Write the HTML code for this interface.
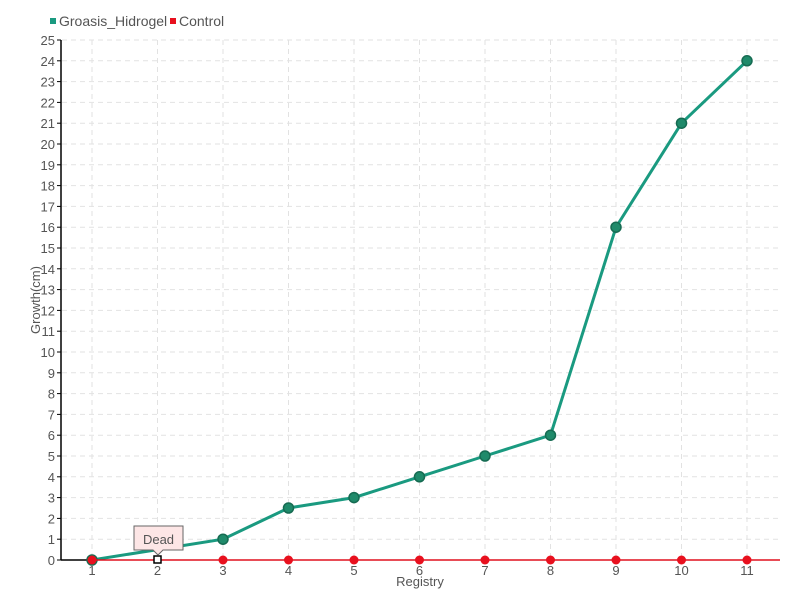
<!DOCTYPE html>
<html><head><style>body{margin:0;background:#fff}svg{display:block}text{font-family:"Liberation Sans",sans-serif;fill:#555}</style></head><body>
<svg width="800" height="600" xmlns="http://www.w3.org/2000/svg">
<g id="grid" stroke="#e2e2e2" stroke-dasharray="5,4" stroke-width="1"></g>
<g id="ax"></g>
<polyline points="92,560 157.5,549.6 223,539.2 288.5,508 354,497.6 419.5,476.8 485,456 550.5,435.2 616,227.2 681.5,123.2 747,60.8" fill="none" stroke="#1a9a80" stroke-width="3"/>
<g id="gp" fill="#1f8a6a" stroke="#166b52" stroke-width="1.5"></g>
<line x1="92" y1="560" x2="780" y2="560" stroke="#e0101e" stroke-width="1.5"/>
<g id="rp" fill="#e8101e"></g>
<rect x="154" y="556" width="7" height="7" fill="#fff" stroke="#000" stroke-width="1.5"/>
<path d="M134,526 H183 V550 H163 L158,555 L153,550 H134 Z" fill="#fde6e6" stroke="#666"/>
<text x="158.5" y="544" text-anchor="middle" font-size="13">Dead</text>
<rect x="50" y="18" width="6" height="6" fill="#1a9a80"/>
<text x="59" y="26" font-size="14">Groasis_Hidrogel</text>
<rect x="170" y="18" width="6" height="6" fill="#e8101e"/>
<text x="179" y="26" font-size="14">Control</text>
<text x="420" y="586" text-anchor="middle" font-size="13">Registry</text>
<text transform="translate(40,300) rotate(-90)" text-anchor="middle" font-size="13">Growth(cm)</text>
<script>
var ns="http://www.w3.org/2000/svg",g=document.getElementById('grid'),a=document.getElementById('ax');
function el(p,t,o){var e=document.createElementNS(ns,t);for(var k in o)e.setAttribute(k,o[k]);p.appendChild(e);return e}
for(var i=0;i<=25;i++){var y=560-i*20.8;if(i>0)el(g,'line',{x1:62,y1:y,x2:780,y2:y});el(a,'line',{x1:57,y1:y,x2:61,y2:y,stroke:'#000'});var t=el(a,'text',{x:55,y:y+5,'text-anchor':'end','font-size':13});t.textContent=i;}
for(var j=1;j<=11;j++){var x=92+(j-1)*65.5;el(g,'line',{x1:x,y1:40,x2:x,y2:560});var t=el(a,'text',{x:x,y:575,'text-anchor':'middle','font-size':13});t.textContent=j;}
el(a,'line',{x1:61,y1:40,x2:61,y2:560,stroke:'#000','stroke-width':1.5});
el(a,'line',{x1:61,y1:560,x2:92,y2:560,stroke:'#000','stroke-width':1.5});
var v=[0,0.5,1,2.5,3,4,5,6,16,21,24],gp=document.getElementById('gp'),rp=document.getElementById('rp');
for(var j=0;j<11;j++){var x=92+j*65.5;if(j!=1)el(gp,'circle',{cx:x,cy:560-v[j]*20.8,r:5});if(j!=1)el(rp,'circle',{cx:x,cy:560,r:4.5});}
</script>
</svg>
</body></html>
